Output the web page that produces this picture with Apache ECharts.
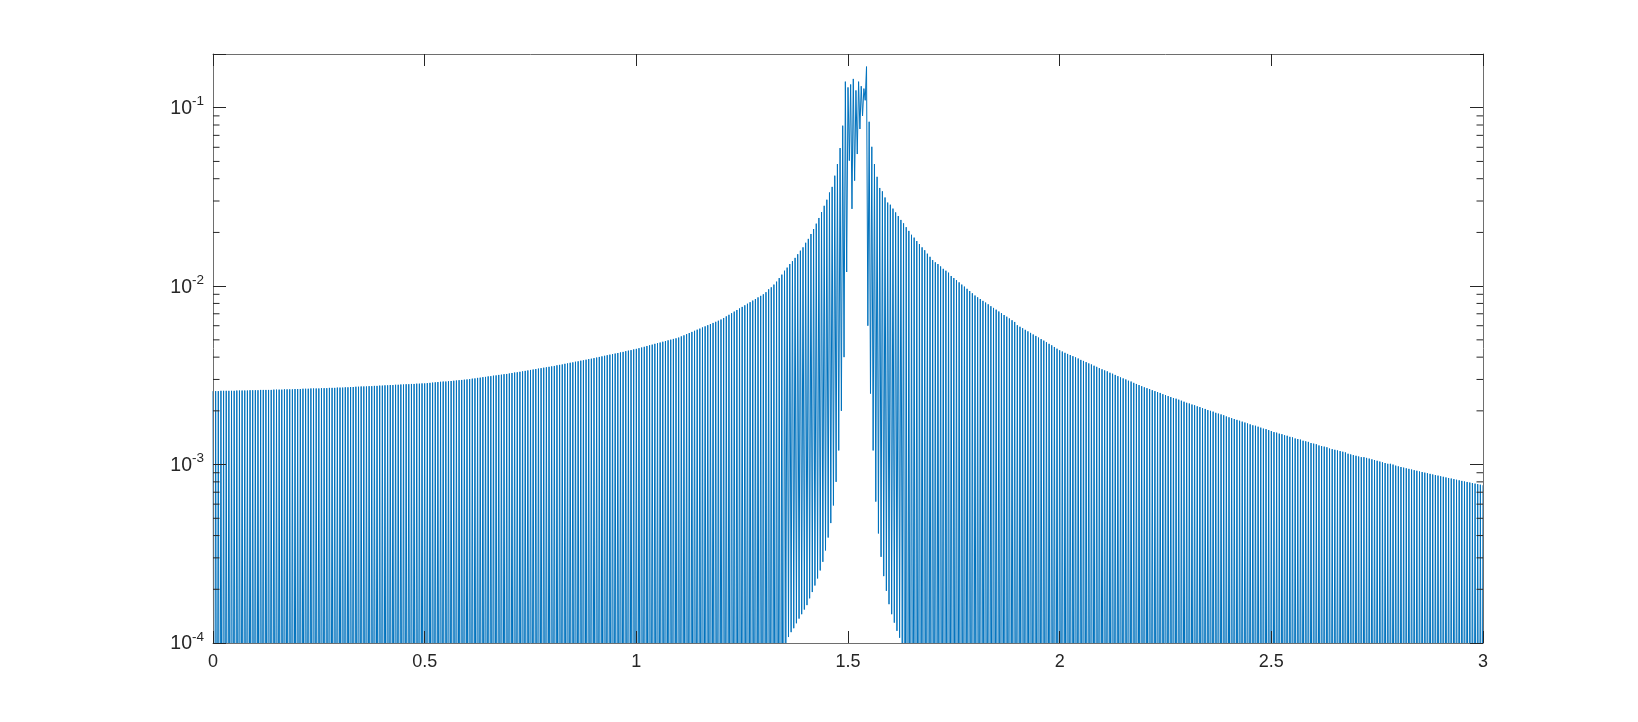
<!DOCTYPE html>
<html><head><meta charset="utf-8">
<script src="https://cdn.jsdelivr.net/npm/echarts@6/dist/echarts.min.js"></script>
<style>html,body{margin:0;padding:0;background:#fff}#c{width:1638px;height:722px}</style>
</head><body><div id="c"></div>
<script>
// ---- axis ranges / ticks ----
const X_MIN = 0, X_MAX = 3, X_STEP = 0.5;
const Y_MIN = 1e-4, Y_MAX = 0.2;
// minor log ticks (2..9 x 10^k)
const MINOR_TICKS = [2e-4,3e-4,4e-4,5e-4,6e-4,7e-4,8e-4,9e-4,
  2e-3,3e-3,4e-3,5e-3,6e-3,7e-3,8e-3,9e-3,
  2e-2,3e-2,4e-2,5e-2,6e-2,7e-2,8e-2,9e-2];

// ---- data: values in units of 1e-4 ----
const UNIT = 1e-4;
// peak value of each oscillation (481 peaks evenly spaced from x=0 to x=3)
const PEAKS = [
25.8,25.8,25.8,25.9,25.9,25.9,25.9,25.9,25.9,26.0,26.0,26.0,26.0,26.0,26.1,26.1,
26.1,26.1,26.2,26.2,26.2,26.2,26.2,26.3,26.3,26.3,26.3,26.4,26.4,26.4,26.4,26.5,
26.5,26.5,26.6,26.6,26.6,26.7,26.7,26.7,26.7,26.8,26.8,26.8,26.9,26.9,26.9,27.0,
27.0,27.0,27.1,27.1,27.2,27.2,27.3,27.3,27.4,27.4,27.4,27.5,27.5,27.6,27.6,27.7,
27.7,27.8,27.8,27.9,27.9,28.0,28.0,28.1,28.1,28.2,28.2,28.3,28.3,28.4,28.4,28.5,
28.5,28.6,28.7,28.8,28.9,29.0,29.1,29.2,29.2,29.3,29.4,29.5,29.6,29.7,29.8,29.9,
30.0,30.1,30.3,30.4,30.6,30.7,30.9,31.0,31.2,31.3,31.5,31.6,31.8,31.9,32.1,32.2,
32.4,32.6,32.8,32.9,33.1,33.3,33.5,33.7,33.9,34.1,34.3,34.5,34.7,34.9,35.1,35.3,
35.5,35.7,36.0,36.2,36.4,36.7,36.9,37.2,37.4,37.7,37.9,38.2,38.4,38.7,39.0,39.2,
39.5,39.8,40.1,40.4,40.7,41.0,41.3,41.6,41.9,42.2,42.5,42.8,43.2,43.5,43.8,44.2,
44.5,44.9,45.3,45.7,46.2,46.6,47.0,47.5,47.9,48.3,48.8,49.2,49.7,50.1,50.6,51.0,
51.5,52.3,53.0,53.8,54.6,55.4,56.2,57.0,57.8,58.7,59.5,60.4,61.3,62.2,63.1,64.0,
65.0,66.3,67.7,69.1,70.5,72.0,73.5,75.0,76.5,78.1,79.7,81.3,83.0,84.7,86.5,88.2,
90,92.5,96,98.5,102,106,111,116,122,127,133,138,144,151,158,165,
175,184,196,209,224,241,260,282,305,335,360,416,483,594,793,1400,
1300,1350,1450,1250,1400,1320,1280,1700,834,604,483,410,355,340,314,294,
286,272,259,247,235,225,214,204,194,187,179,172,165,159,152,146,
140,136,133,129,125,122,119,114,111,108,105,102,99.4,96.6,93.9,91.2,
88.6,86.6,84.7,82.7,80.9,79.1,77.2,75.5,73.8,72.1,70.5,68.9,67.4,65.9,64.4,63.0,
60.4,59.2,58.1,56.9,55.8,54.7,53.6,52.6,51.5,50.5,49.5,48.5,47.5,46.6,45.6,44.6,
43.7,43.0,42.3,41.7,41.1,40.5,39.9,39.3,38.6,38.1,37.5,36.9,36.4,35.8,35.3,34.7,
34.2,33.7,33.3,32.7,32.3,31.8,31.3,30.8,30.4,30.0,29.5,29.2,28.7,28.3,27.9,27.5,
27.1,26.8,26.5,26.1,25.8,25.5,25.2,24.8,24.5,24.2,23.9,23.6,23.4,23.1,22.8,22.5,
22.2,22.0,21.7,21.5,21.2,21.0,20.7,20.5,20.2,20.0,19.8,19.5,19.3,19.1,18.9,18.6,
18.4,18.2,18.0,17.8,17.6,17.4,17.2,17.0,16.8,16.6,16.5,16.3,16.1,15.9,15.8,15.6,
15.4,15.2,15.1,14.9,14.8,14.6,14.5,14.3,14.2,14.0,13.9,13.8,13.6,13.5,13.4,13.2,
13.1,13.0,12.8,12.7,12.6,12.5,12.3,12.2,12.1,12.0,11.9,11.8,11.7,11.5,11.4,11.3,
11.2,11.1,11.0,11.0,10.9,10.8,10.7,10.6,10.5,10.4,10.3,10.2,10.1,10.1,10.0,9.86,
9.77,9.69,9.61,9.53,9.46,9.38,9.30,9.23,9.15,9.08,9.01,8.94,8.87,8.80,8.73,8.67,
8.60,8.54,8.47,8.41,8.35,8.29,8.22,8.16,8.10,8.04,7.99,7.93,7.88,7.82,7.77,7.71,
7.66
];
// troughs between peaks that are visible above 1e-4 (starting after peak #216)
const TROUGH_START = 216;
const TROUGHS = [
1.00,1.08,1.15,1.21,1.29,1.37,1.45,1.54,1.63,1.78,1.93,2.10,2.30,2.55,2.85,3.30,
3.90,4.70,5.90,8.0,12,20,40,120,
505,271,390,550,760,900,1100,60,25,12,
6.2,4.11,3.04,2.37,1.96,1.65,1.45,1.30,1.17,1.07,1.00
];
// all other troughs fall below the axis floor
const OFF_SCALE_LOW = 1e-6;

// ---- build series ----
const step = (X_MAX - X_MIN) / (2 * (PEAKS.length - 1));
const lineData = [];
for (let k = 0; k < PEAKS.length; k++) {
  lineData.push([X_MIN + 2 * k * step, PEAKS[k] * UNIT]);
  if (k < PEAKS.length - 1) {
    const j = k - TROUGH_START;
    const t = (j >= 0 && j < TROUGHS.length) ? TROUGHS[j] * UNIT : OFF_SCALE_LOW;
    lineData.push([X_MIN + (2 * k + 1) * step, t]);
  }
}

const FONT = '"Liberation Sans", Arial, Helvetica, sans-serif';
const axisLineStyle = { color: '#6e6e6e', width: 1 };
const tickStyle = { color: '#262626', width: 1 };

function yLabel(v) {
  const e = Math.round(Math.log10(v));
  if (Math.abs(v / Math.pow(10, e) - 1) < 1e-6) return '{b|10}{s|' + e + '}';
  return '';
}
const yRich = {
  b: { fontSize: 19.5, fontFamily: FONT, color: '#262626', lineHeight: 28, verticalAlign: 'bottom', padding: [0, 0, 3, 0] },
  s: { fontSize: 13.5, fontFamily: FONT, color: '#262626', lineHeight: 28, verticalAlign: 'top', padding: [1, 0, 0, 0] }
};

const chart = echarts.init(document.getElementById('c'), null, { renderer: 'canvas' });
chart.setOption({
  animation: false,
  backgroundColor: '#fff',
  grid: { left: 213, right: 155, top: 54, bottom: 79, containLabel: false },
  xAxis: [
    { type: 'value', min: X_MIN, max: X_MAX, interval: X_STEP, position: 'bottom', z: 10,
      axisLine: { show: true, onZero: false, lineStyle: axisLineStyle },
      axisTick: { show: true, inside: true, length: 12, lineStyle: tickStyle },
      axisLabel: { fontSize: 18, fontFamily: FONT, color: '#262626', margin: 10 },
      splitLine: { show: false } },
    { type: 'value', min: X_MIN, max: X_MAX, interval: X_STEP, position: 'top', z: 10,
      axisLine: { show: true, onZero: false, lineStyle: axisLineStyle },
      axisTick: { show: true, inside: true, length: 12, lineStyle: tickStyle },
      axisLabel: { show: false }, splitLine: { show: false } }
  ],
  yAxis: [
    { type: 'log', logBase: 10, min: Y_MIN, max: Y_MAX, position: 'left', z: 10,
      axisLine: { show: true, onZero: false, lineStyle: axisLineStyle },
      axisTick: { show: true, inside: true, length: 13, lineStyle: tickStyle },
      axisLabel: { formatter: yLabel, rich: yRich, margin: 9 },
      splitLine: { show: false } },
    { type: 'log', logBase: 10, min: Y_MIN, max: Y_MAX, position: 'right', z: 10,
      axisLine: { show: true, onZero: false, lineStyle: axisLineStyle },
      axisTick: { show: true, inside: true, length: 13, lineStyle: tickStyle },
      axisLabel: { show: false }, splitLine: { show: false } }
  ],
  series: [
    { type: 'line', xAxisIndex: 0, yAxisIndex: 0, data: lineData, showSymbol: false, symbol: 'none',
      clip: true, sampling: null, silent: true,
      lineStyle: { color: '#0072BD', width: 1 }, z: 2 },
    { type: 'custom', xAxisIndex: 0, yAxisIndex: 0, silent: true, z: 11,
      data: MINOR_TICKS.map(v => [X_MIN, v]),
      renderItem: function (params, api) {
        const v = api.value(1);
        const a = api.coord([X_MIN, v]);
        const b = api.coord([X_MAX, v]);
        return { type: 'group', children: [
          { type: 'line', shape: { x1: a[0], y1: a[1], x2: a[0] + 6.5, y2: a[1] }, style: { stroke: '#262626', lineWidth: 1 } },
          { type: 'line', shape: { x1: b[0] - 6.5, y1: b[1], x2: b[0], y2: b[1] }, style: { stroke: '#262626', lineWidth: 1 } }
        ] };
      } }
  ]
});
</script>
</body></html>
